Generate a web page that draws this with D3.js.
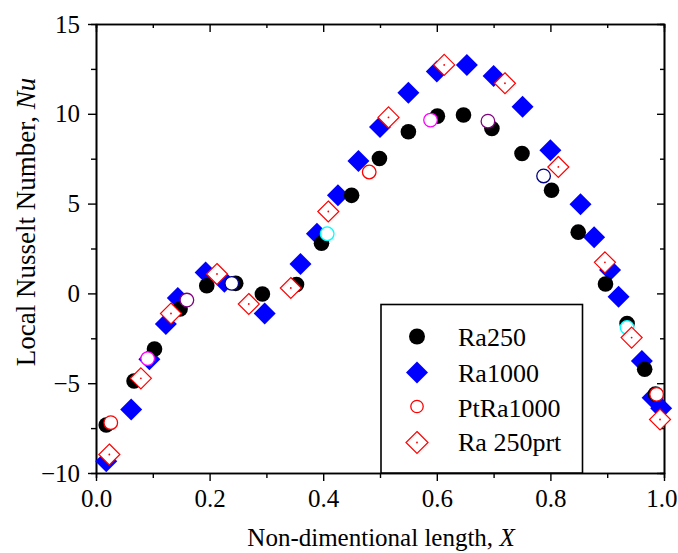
<!DOCTYPE html>
<html>
<head>
<meta charset="utf-8">
<script src="https://cdn.jsdelivr.net/npm/d3@7"></script>
<style>
  html, body { margin: 0; padding: 0; background: #fff; }
  svg { display: block; }
  svg text { font-family: "Liberation Serif", "DejaVu Serif", serif !important; }
</style>
</head>
<body>
<svg id="chart" width="678" height="553"></svg>
<script>
// Local Nusselt number along the non-dimensional length for four cases

// Ra250 (filled black circles)
const ra250X = [0.018, 0.067, 0.103, 0.148, 0.195, 0.246, 0.293, 0.353, 0.397, 0.450, 0.499,
                0.550, 0.601, 0.647, 0.697, 0.750, 0.802, 0.849, 0.897, 0.935, 0.966, 0.985];
const ra250Y = [-7.33, -4.88, -3.10, -0.87, 0.43, 0.56, -0.03, 0.49, 2.79, 5.46, 7.51,
                9.00, 9.87, 9.93, 9.18, 7.79, 5.74, 3.41, 0.52, -1.68, -4.22, -5.60];

// Ra1000 (filled blue diamonds)
const ra1000X = [0.018, 0.062, 0.094, 0.123, 0.144, 0.193, 0.226, 0.297, 0.360, 0.389, 0.426,
                 0.462, 0.500, 0.550, 0.600, 0.653, 0.700, 0.751, 0.800, 0.853, 0.877, 0.905,
                 0.920, 0.961, 0.980, 0.995];
const ra1000Y = [-9.35, -6.46, -3.67, -1.71, -0.25, 1.17, 0.65, -1.12, 1.64, 3.32, 5.46,
                 7.37, 9.27, 11.17, 12.35, 12.72, 12.10, 10.39, 7.97, 4.96, 3.13, 1.30,
                 -0.18, -3.76, -5.81, -6.40];

// PtRa1000 (open circles, colour steps through a five-colour cycle)
const ptRa1000X = [0.026, 0.091, 0.160, 0.239, 0.407, 0.481, 0.589, 0.690, 0.788, 0.935, 0.987];
const ptRa1000Y = [-7.20, -3.63, -0.37, 0.56, 3.32, 6.76, 9.65, 9.59, 6.54, -1.90, -5.62];
const ptCycle = ["#ff0000", "#ff00ff", "#800080", "#000080", "#00ffff"];

// Ra 250prt (open red diamonds with a centre dot)
const ra250prtX = [0.0235, 0.079, 0.132, 0.213, 0.269, 0.343, 0.409, 0.515, 0.613, 0.720,
                   0.814, 0.896, 0.943, 0.993];
const ra250prtY = [-8.97, -4.73, -1.12, 1.08, -0.59, 0.30, 4.56, 9.80, 12.72, 11.70,
                   7.04, 1.73, -2.46, -7.02];

// Axis ticks
const xMajor = [0, 0.2, 0.4, 0.6, 0.8, 1.0];
const xMinor = [0.1, 0.3, 0.5, 0.7, 0.9];
const yMajor = [-10, -5, 0, 5, 10, 15];
const yMinor = [-7.5, -2.5, 2.5, 7.5, 12.5];

const legendLabels = ["Ra250", "Ra1000", "PtRa1000", "Ra 250prt"];

const serif = "'Liberation Serif', 'DejaVu Serif', serif";
const svg = d3.select("#chart");
const plotL = 96, plotR = 664, plotT = 24, plotB = 473;

const x = d3.scaleLinear().domain([0, 1]).range([plotL, plotR]);
const y = d3.scaleLinear().domain([-10, 15]).range([plotB, plotT]);

const pts = (xs, ys) => xs.map((v, i) => ({ x: v, y: ys[i], i }));

// ---- axes ----
function styleAxis(g) {
  g.attr("font-family", serif);
  g.selectAll("path.domain").attr("stroke", "#000").attr("stroke-width", 1.6);
  g.selectAll(".tick line").attr("stroke", "#000").attr("stroke-width", 1.4);
  g.selectAll(".tick text").attr("fill", "#000").attr("font-size", 25)
    .attr("font-family", serif);
}

// bottom: outward ticks with labels
const xAxisG = svg.append("g").attr("transform", `translate(0,${plotB})`)
  .call(d3.axisBottom(x).tickValues(xMajor).tickSizeInner(8).tickSizeOuter(0)
    .tickPadding(8).tickFormat(d3.format(".1f")))
  .call(styleAxis);
// keep the last label inside the page edge
xAxisG.selectAll(".tick").filter(d => d === 1).select("text")
  .attr("text-anchor", "end").attr("x", 677 - plotR);
svg.append("g").attr("transform", `translate(0,${plotB})`)
  .call(d3.axisBottom(x).tickValues(xMinor).tickSize(5).tickFormat(""))
  .call(styleAxis);

// left: outward ticks with labels
svg.append("g").attr("transform", `translate(${plotL},0)`)
  .call(d3.axisLeft(y).tickValues(yMajor).tickSizeInner(8).tickSizeOuter(0)
    .tickPadding(8).tickFormat(d3.format("d")))
  .call(styleAxis);
svg.append("g").attr("transform", `translate(${plotL},0)`)
  .call(d3.axisLeft(y).tickValues(yMinor).tickSize(5).tickFormat(""))
  .call(styleAxis);

// top and right: mirrored inward ticks, no labels
svg.append("g").attr("transform", `translate(0,${plotT})`)
  .call(d3.axisTop(x).tickValues(xMajor).tickSizeInner(-8).tickSizeOuter(0).tickFormat(""))
  .call(styleAxis);
svg.append("g").attr("transform", `translate(0,${plotT})`)
  .call(d3.axisTop(x).tickValues(xMinor).tickSize(-4).tickFormat(""))
  .call(styleAxis);
svg.append("g").attr("transform", `translate(${plotR},0)`)
  .call(d3.axisRight(y).tickValues(yMajor).tickSizeInner(-7).tickSizeOuter(0).tickFormat(""))
  .call(styleAxis);
svg.append("g").attr("transform", `translate(${plotR},0)`)
  .call(d3.axisRight(y).tickValues(yMinor).tickSize(-4).tickFormat(""))
  .call(styleAxis);

// ---- axis titles ----
svg.append("text")
  .attr("transform", "translate(35,222) rotate(-90)")
  .attr("text-anchor", "middle").attr("font-size", 27).attr("fill", "#000")
  .attr("font-family", serif)
  .call(t => {
    t.append("tspan").text("Local Nusselt Number, ");
    t.append("tspan").attr("font-style", "italic").text("Nu");
  });

svg.append("text")
  .attr("x", 381).attr("y", 546)
  .attr("text-anchor", "middle").attr("font-size", 25).attr("fill", "#000")
  .attr("font-family", serif)
  .call(t => {
    t.append("tspan").text("Non-dimentional length, ");
    t.append("tspan").attr("font-style", "italic").text("X");
  });

// ---- markers ----
const diamond = (r) => `M0,${-r}L${r},0L0,${r}L${-r},0Z`;

const plot = svg.append("g");

// Ra1000
plot.selectAll(".ra1000").data(pts(ra1000X, ra1000Y)).enter().append("path")
  .attr("class", "ra1000")
  .attr("transform", d => `translate(${x(d.x)},${y(d.y)})`)
  .attr("d", diamond(11)).attr("fill", "#0000ff");

// Ra250
plot.selectAll(".ra250").data(pts(ra250X, ra250Y)).enter().append("circle")
  .attr("class", "ra250")
  .attr("cx", d => x(d.x)).attr("cy", d => y(d.y)).attr("r", 7.8)
  .attr("fill", "#000");

// PtRa1000
plot.selectAll(".pt").data(pts(ptRa1000X, ptRa1000Y)).enter().append("circle")
  .attr("class", "pt")
  .attr("cx", d => x(d.x)).attr("cy", d => y(d.y)).attr("r", 6.8)
  .attr("fill", "#fff").attr("stroke", d => ptCycle[d.i % ptCycle.length]).attr("stroke-width", 1.3);

// Ra 250prt
const prt = plot.selectAll(".prt").data(pts(ra250prtX, ra250prtY)).enter().append("g")
  .attr("class", "prt")
  .attr("transform", d => `translate(${x(d.x)},${y(d.y)})`);
prt.append("path").attr("d", diamond(10.5))
  .attr("fill", "#fff").attr("stroke", "#ff0000").attr("stroke-width", 1.2);
prt.append("circle").attr("r", 0.9).attr("fill", "#ff0000");

// ---- legend ----
const lg = svg.append("g");
lg.append("rect").attr("x", 381).attr("y", 304.5).attr("width", 201.5).attr("height", plotB - 304.5)
  .attr("fill", "#fff").attr("stroke", "#000").attr("stroke-width", 1.6);

const rowBase = [346, 381.5, 416.5, 450.5];
const symX = 417, textX = 458;
lg.append("circle").attr("cx", symX).attr("cy", rowBase[0] - 9.5).attr("r", 8).attr("fill", "#000");
lg.append("path").attr("transform", `translate(${symX},${rowBase[1] - 9})`)
  .attr("d", diamond(11)).attr("fill", "#0000ff");
lg.append("circle").attr("cx", symX).attr("cy", rowBase[2] - 10).attr("r", 6.2)
  .attr("fill", "#fff").attr("stroke", "#ff0000").attr("stroke-width", 1.3);
const lgd = lg.append("g").attr("transform", `translate(${symX},${rowBase[3] - 8})`);
lgd.append("path").attr("d", diamond(11)).attr("fill", "#fff").attr("stroke", "#ff0000").attr("stroke-width", 1.2);
lgd.append("circle").attr("r", 0.9).attr("fill", "#ff0000");

lg.selectAll(".lt").data(legendLabels).enter().append("text")
  .attr("class", "lt")
  .attr("x", textX).attr("y", (d, i) => rowBase[i])
  .attr("font-size", 26).attr("fill", "#000").attr("font-family", serif)
  .text(d => d);
</script>
</body>
</html>
